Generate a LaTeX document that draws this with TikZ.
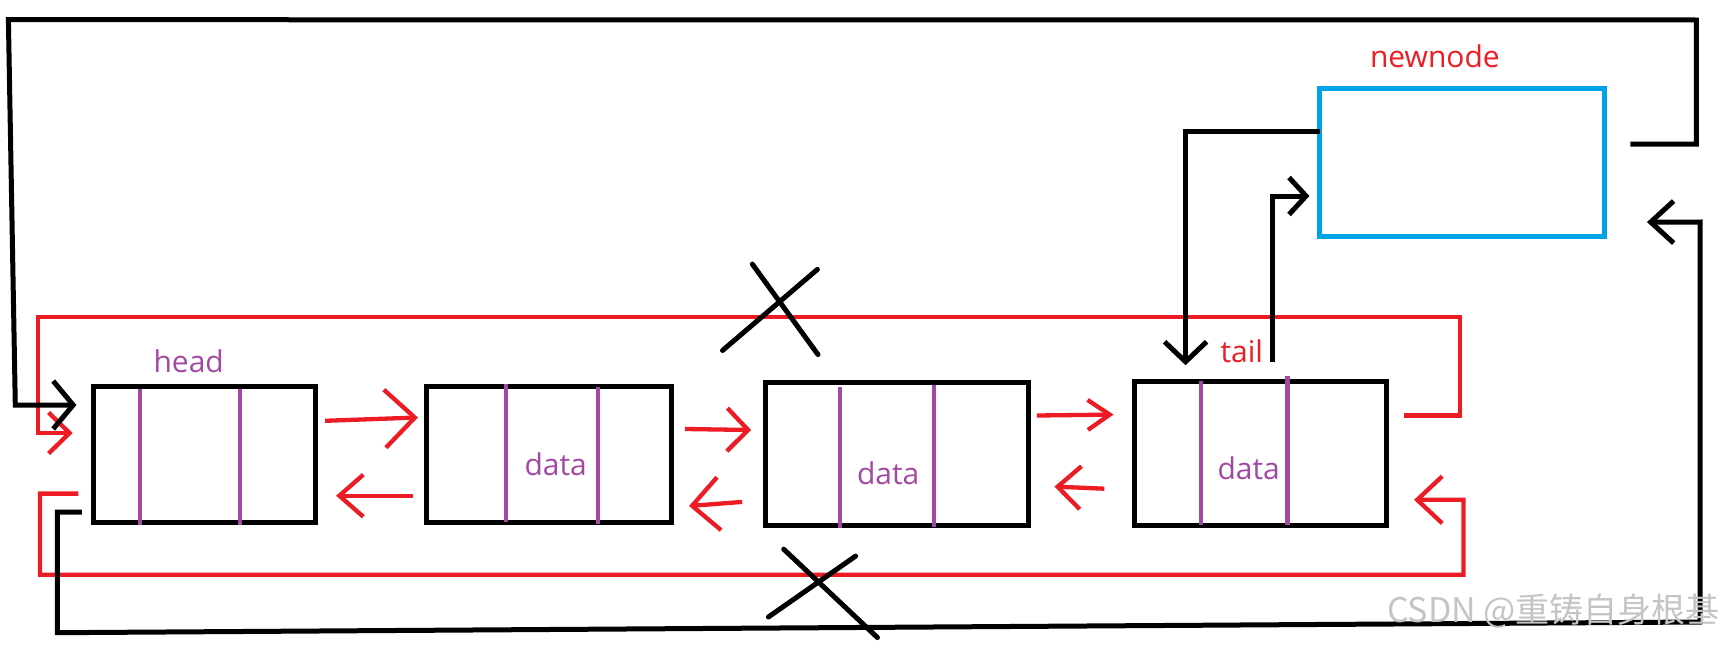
\documentclass[tikz,border=0pt]{standalone}
\usepackage{fontspec}
\setmainfont{Open Sans}
\newfontfamily\cjkfont{Noto Sans CJK SC}
\usetikzlibrary{arrows.meta}
\definecolor{pred}{HTML}{ED1C24}
\definecolor{ppurple}{HTML}{A349A4}
\definecolor{pblue}{HTML}{00A2E8}
\definecolor{wmgray}{HTML}{C4C4C4}
\begin{document}
\begin{tikzpicture}[x=1pt,y=-1pt,
  listbox/.style={draw=black,line width=5pt,inner sep=0pt,outer sep=0pt},
  newbox/.style={draw=pblue,line width=5pt,inner sep=0pt,outer sep=0pt},
  divider/.style={draw=ppurple,line width=4.3pt},
  rline/.style={draw=pred,line width=4.3pt,line join=miter},
  bline/.style={draw=black,line width=5pt,line join=miter},
  crossline/.style={draw=black,line width=5pt,line cap=round},
  lbl/.style={inner sep=0pt,outer sep=0pt,font=\fontsize{30pt}{34pt}\selectfont}
]
\useasboundingbox (0,0) rectangle (1725,645);

% boxes
\node[listbox,minimum width=222pt,minimum height=136pt] (head) at (204.75,454.6) {};
\node[listbox,minimum width=245pt,minimum height=136pt] (n2) at (549.15,454.6) {};
\node[listbox,minimum width=263pt,minimum height=143pt] (n3) at (896.95,454.2) {};
\node[listbox,minimum width=252pt,minimum height=144pt] (tail) at (1260.55,453.5) {};
\node[newbox,minimum width=285pt,minimum height=148pt] (newnode) at (1462.25,162.5) {};

% purple dividers
\draw[divider] (139.7,388.7) -- (139.7,524.5);
\draw[divider] (240,388.7) -- (240,524.5);
\draw[divider] (506.3,384) -- (506.3,522.4);
\draw[divider] (597.8,386.7) -- (597.8,524);
\draw[divider] (840.3,386.7) -- (840.3,527.6);
\draw[divider] (934,384.7) -- (934,526.6);
\draw[divider] (1201.3,380.5) -- (1201.3,524.5);
\draw[divider] (1287.5,376.4) -- (1287.5,524.5);

% labels
\node[lbl,text=ppurple,anchor=base west] (headlbl) at (153.5,372) {head};
\node[lbl,text=pred,anchor=base west] (newlbl) at (1370,67) {newnode};
\node[lbl,text=pred,anchor=base west] (taillbl) at (1220.5,362) {tail};
\node[lbl,text=ppurple,anchor=base west] (d2) at (524.5,475) {data};
\node[lbl,text=ppurple,anchor=base west] (d3) at (857,484) {data};
\node[lbl,text=ppurple,anchor=base west] (d4) at (1217.5,479) {data};

% red arrows between boxes
\draw[rline,-{Straight Barb[length=30pt,width=58pt]}] ([shift={(9.3,-33.8)}]head.east) -- ([shift={(-8.7,-37.1)}]n2.west);
\draw[rline,-{Straight Barb[length=24pt,width=42pt]}] ([shift={(-14.1,41.1)}]n2.west) -- ([shift={(20.3,41.1)}]head.east);
\draw[rline,-{Straight Barb[length=21pt,width=43pt]}] ([shift={(13.4,-25.6)}]n2.east) -- ([shift={(-14.3,-24.2)}]n3.west);
\draw[rline,-{Straight Barb[length=27pt,width=53pt]}] ([shift={(-23.3,47.7)}]n3.west) -- ([shift={(17.4,51.4)}]n2.east);
\draw[rline,-{Straight Barb[length=22pt,width=30pt]}] ([shift={(8.4,-38.7)}]n3.east) -- ([shift={(-21,-38.9)}]tail.west);
\draw[rline,-{Straight Barb[length=23pt,width=43pt]}] ([shift={(-30.2,35.2)}]tail.west) -- ([shift={(26,32.4)}]n3.east);

% red loops
\coordinate (rtl) at (38.3,317.2);
\coordinate (rbl) at (40,574.7);
\draw[rline,-{Straight Barb[length=21pt,width=41pt]}] ([shift={(17.3,-38)}]tail.east) -- ++(56.1,0) |- (rtl) |- ([shift={(-21.1,-21.6)}]head.west);
\draw[rline,-{Straight Barb[length=25pt,width=47pt]}] ([shift={(-15.3,39)}]head.west) -- ++(-38.5,0) -- (rbl) -| ([shift={(77,46.3)}]tail.east) -- ([shift={(27.5,46.3)}]tail.east);

% black loops
\coordinate (btr) at (1696.4,20);
\coordinate (btl) at (8.4,19.7);
\coordinate (bll) at (15.3,405);
\draw[bline,-{Straight Barb[length=20pt,width=48pt]}] ([shift={(25.7,-18.5)}]newnode.east) -- ++(66,0) -- (btr) -- (btl) -- (bll) -- ([shift={(-17.3,-49.6)}]head.west);
\coordinate (bbl) at (57.4,632.7);
\coordinate (bbr) at (1700,622);
\draw[bline,-{Straight Barb[length=23pt,width=42pt]}] ([shift={(-11.8,57.5)}]head.west) -- ++(-24.6,0) -- (bbl) -- (bbr) -- (1700,222) -- ([shift={(42.2,59.6)}]newnode.east);

% tail <-> newnode
\draw[bline,-{Straight Barb[length=20pt,width=42pt]}] ([shift={(0.7,-30.9)}]newnode.west) -| ([shift={(-75,-16.3)}]tail.north);
\draw[bline,-{Straight Barb[length=17pt,width=37pt]}] ([shift={(12.2,-19.3)}]tail.north) |- ([shift={(-10.3,33.5)}]newnode.west);

% crosses
\draw[crossline] (752.3,264.1) -- (818,354.6);
\draw[crossline] (817.4,269.4) -- (722.5,350.5);
\draw[crossline] (783.7,549.2) -- (877.5,637.6);
\draw[crossline] (855.6,556.1) -- (768.4,617);

% watermark
\node[inner sep=0pt,anchor=east,text=wmgray,font=\cjkfont\fontsize{34pt}{38pt}\selectfont] (wm) at (1720,611) {CSDN @重铸自身根基};
\end{tikzpicture}
\end{document}
